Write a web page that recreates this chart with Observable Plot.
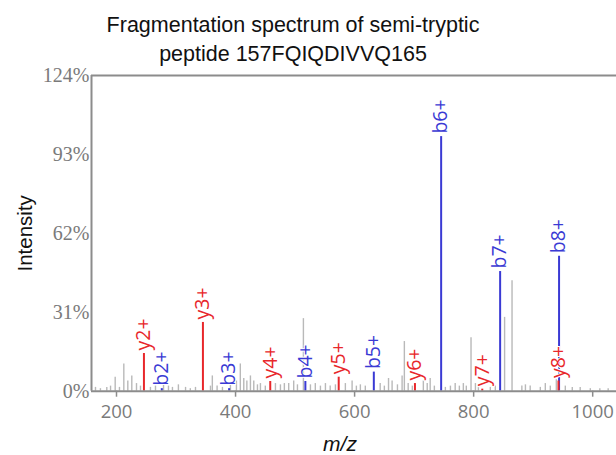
<!DOCTYPE html>
<html>
<head>
<meta charset="utf-8">
<script src="https://cdn.jsdelivr.net/npm/d3@7"></script>
<script src="https://cdn.jsdelivr.net/npm/@observablehq/plot@0.6"></script>
<style>
  html, body { margin: 0; padding: 0; background: #fff; }
  #wrap { position: relative; width: 616px; height: 455px; overflow: hidden; }
  #title { position: absolute; top: 11px; left: 0; width: 586px; text-align: center;
           font-family: "Liberation Sans", Arial, sans-serif; font-size: 21.5px; line-height: 29px; color: #111; }
  #chart { position: absolute; top: 68px; left: 0; }
</style>
</head>
<body>
<div id="wrap">
  <div id="title">Fragmentation spectrum of semi-tryptic<br>peptide 157FQIQDIVVQ165</div>
  <div id="chart"></div>
</div>
<script>
// ---- data ----
const xDomain = [158, 1040];
const xTicks = [200, 400, 600, 800, 1000];
const yTicks = [0, 31, 62, 93, 124];

// unannotated (grey) peaks
const noiseMz  = [164.7,173,183.7,190,197.8,205,212.3,219,225.7,233.6,240.3,257,265.5,279,287.3,294,304,316,324,332.7,
                  357.9,361,369,378,391.4,401.5,408,413.8,419,425,430.6,436.8,441.8,450,467,475.4,482,489.3,497.7,504,
                  514,525.8,534,542.6,551,559,567.8,584.5,595.8,603,609.7,618,643,650,657,663,672,679.8,683.6,690,697,
                  715.5,722,727,734,752.5,761,769,776,782.7,787.7,795.6,803,808,828,836.4,852,864.5,881,887,895,912,920.4,
                  928.8,938.9,954,965.7,979,996,1012,1026];
const noiseInt = [1.5,1,1.5,2,5.5,1.5,10.7,4,6,3,2,1.5,2,2.5,2,1.5,2.5,1.5,1,1.5,
                  2,6,2,1.5,3,4,10.7,5,4,6,4,2.5,3,2,3,2.5,3,3,4,2.5,
                  28.5,2.5,3,2,3,2,2.5,3,4,2,2.5,2,3,2,5,4,2.5,6,19.5,3,2,
                  4,3,5,2,1.5,2,3,2,3,2,21,3,2,1.5,2,29,43.4,2,2.5,2,1.5,3,
                  2,4.5,2,1.5,1.5,1,1,1];

// annotated fragment ions
const ionLabel = ["y2+","b2+","y3+","b3+","y4+","b4+","y5+","b5+","y6+","b6+","y7+","b7+","b8+","y8+"];
const ionMz    = [246.1,276.1,345.2,389.2,458.3,517.3,573.3,632.3,701.4,745.4,814.5,844.5,943.5,942.5];
const ionInt   = [14.8,1,27,1,3.8,3.8,5.5,7.5,3,100,0.8,47,53,4];
const ionType  = ["y","b","y","b","y","b","y","b","y","b","y","b","b","y"];

const ionColor = {b: "#3a3ad4", y: "#e8272b"};
const axisGrey = "#8c8c8c";

const noise = noiseMz.map((m, i) => ({mz: m, int: noiseInt[i]}));
const ions = ionMz.map((m, i) => ({mz: m, int: ionInt[i], label: ionLabel[i], color: ionColor[ionType[i]]}));

const chart = Plot.plot({
  width: 616,
  height: 387,
  marginLeft: 91,
  marginRight: 0,
  marginTop: 7,
  marginBottom: 64.3,
  x: {domain: xDomain},
  y: {domain: [yTicks[0], yTicks[yTicks.length - 1]]},
  style: {background: "#fff", overflow: "visible"},
  marks: [
    Plot.ruleX(noise, {x: "mz", y1: 0, y2: "int", stroke: "#b9b9b9", strokeWidth: 1.4}),
    Plot.ruleX(ions, {x: "mz", y1: 0, y2: "int", stroke: d => d.color, strokeWidth: 2}),
    Plot.text(ions, {x: "mz", y: "int", text: "label", rotate: -90, textAnchor: "start", lineAnchor: "middle",
      dy: -3, fill: d => d.color, stroke: "white", strokeWidth: 2,
      fontSize: 19.5, fontFamily: "Open Sans"}),
    Plot.ruleY([yTicks[0]], {stroke: axisGrey, strokeWidth: 2}),
    Plot.ruleY([yTicks[yTicks.length - 1]], {stroke: axisGrey, strokeWidth: 2}),
    Plot.ruleX([xDomain[0]], {stroke: axisGrey, strokeWidth: 2}),
    Plot.axisX({ticks: xTicks, tickSize: 6, tickPadding: 8, stroke: axisGrey, fill: "#7a7a7a",
      tickFormat: d => String(d),
      fontSize: 18.5, fontFamily: "Open Sans", label: null, strokeWidth: 1.5}),
    Plot.axisY({ticks: yTicks, tickSize: 0, tickPadding: 2, fill: "#7a7a7a",
      tickFormat: d => d + "%", fontSize: 20, fontFamily: "Liberation Serif", label: null}),
    Plot.text(["Intensity"], {frameAnchor: "left", dx: -66, rotate: -90, textAnchor: "middle", lineAnchor: "middle",
      fontSize: 20.5, fontFamily: "Liberation Sans", fill: "#111"}),
    Plot.text(["m/z"], {frameAnchor: "bottom", dx: -14, dy: 53, textAnchor: "middle", lineAnchor: "middle",
      fontSize: 21, fontFamily: "Liberation Sans", fontStyle: "italic", fill: "#111"})
  ]
});
document.getElementById("chart").appendChild(chart);
</script>
</body>
</html>
